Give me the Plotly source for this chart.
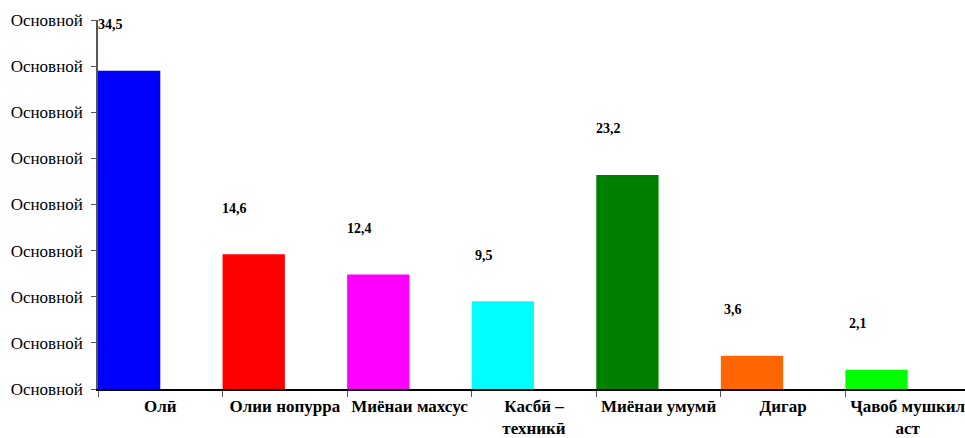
import plotly.graph_objects as go

categories = ["Олӣ", "Олии нопурра", "Миёнаи махсус", "Касбӣ –<br>техникӣ",
              "Миёнаи умумӣ", "Дигар", "Ҷавоб мушкил<br>аст"]
values = [34.5, 14.6, 12.4, 9.5, 23.2, 3.6, 2.1]
value_labels = ["34,5", "14,6", "12,4", "9,5", "23,2", "3,6", "2,1"]
colors = ["#0000FF", "#FF0000", "#FF00FF", "#00FFFF", "#008000", "#FF6600", "#00FF00"]
ytick_vals = [0, 5, 10, 15, 20, 25, 30, 35, 40]
ytick_text = ["Основной"] * len(ytick_vals)

font_family = "Liberation Serif"

bars = go.Bar(x=categories, y=values, marker=dict(color=colors, line=dict(width=0)),
              width=0.5, offset=-0.5, showlegend=False, hoverinfo='skip')

annotations = [dict(x=c, y=v, text="<b>%s</b>" % t, showarrow=False, xshift=-50, yshift=46,
                    font=dict(family=font_family, size=14, color='black'))
               for c, v, t in zip(categories, values, value_labels)]

layout = go.Layout(width=965, height=438,
                   margin=dict(l=98, r=0, t=20, b=49),
                   paper_bgcolor='white', plot_bgcolor='white',
                   font=dict(family=font_family, size=17, color='black'),
                   xaxis=dict(type='category', range=[-0.5, 6.46], tickson='boundaries',
                              ticks='outside', ticklen=6, tickcolor='#555', automargin=False,
                              tickangle=0, ticklabelstandoff=1,
                              showline=True, linecolor='black', linewidth=1.5,
                              showgrid=False, tickfont=dict(family=font_family, size=17, color='black'),
                              tickprefix='<b>', ticksuffix='</b>'),
                   yaxis=dict(range=[0, 40], tickvals=ytick_vals, ticktext=ytick_text,
                              ticks='outside', ticklen=5, tickcolor='#555', automargin=False,
                              ticklabelstandoff=5,
                              showline=True, linecolor='#555', linewidth=1.5,
                              showgrid=False, zeroline=False,
                              tickfont=dict(family=font_family, size=17, color='black')),
                   annotations=annotations)

fig = go.Figure(data=[bars], layout=layout)
# page body has an 8px default margin; drop it so the figure fills the window
fig.write_html("out.html", config={'displayModeBar': False},
               post_script="document.body.style.margin='0';")
